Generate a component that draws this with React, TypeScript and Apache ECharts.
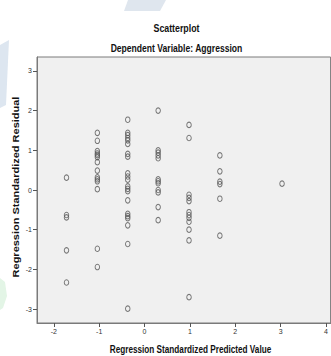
import React, { useEffect, useRef } from "react";
import * as echarts from "echarts";

// Predicted value (x) for each vertical group of points
const groupPredicted = [-1.72, -1.04, -0.37, 0.3, 0.98, 1.66, 3.03];

// Standardized residuals (y), one list per group
const group1Residuals = [0.31, -0.63, -0.69, -1.52, -2.33];
const group2Residuals = [1.44, 1.24, 0.98, 0.92, 0.88, 0.83, 0.7, 0.49, 0.32, 0.27, 0.22, 0.02, -1.48, -1.94];
const group3Residuals = [1.77, 1.44, 1.38, 1.31, 1.25, 1.16, 0.91, 0.84, 0.42, 0.34, 0.26, 0.09, 0.03, -0.03, -0.26, -0.6, -0.66, -0.71, -0.89, -1.36, -2.99];
const group4Residuals = [2.0, 1.0, 0.94, 0.87, 0.8, 0.27, 0.22, 0.17, 0.0, -0.06, -0.43, -0.76];
const group5Residuals = [1.64, 1.31, -0.12, -0.2, -0.28, -0.56, -0.63, -0.7, -0.8, -1.0, -1.27, -2.7];
const group6Residuals = [0.87, 0.47, 0.21, 0.15, -0.22, -1.15];
const group7Residuals = [0.16];

const xTicks = [-2, -1, 0, 1, 2, 3, 4];
const yTicks = [-3, -2, -1, 0, 1, 2, 3];

const titleText = "Scatterplot";
const subtitleText = "Dependent Variable: Aggression";
const xAxisName = "Regression Standardized Predicted Value";
const yAxisName = "Regression Standardized Residual";

export default function App() {
  const ref = useRef<HTMLDivElement>(null);

  useEffect(() => {
    if (!ref.current) return;
    const chart = echarts.init(ref.current, null, { renderer: "svg" });
    const groups = [
      group1Residuals,
      group2Residuals,
      group3Residuals,
      group4Residuals,
      group5Residuals,
      group6Residuals,
      group7Residuals,
    ];
    const points: number[][] = [];
    groups.forEach((g, i) => g.forEach((r) => points.push([groupPredicted[i], r])));

    const font = "'Liberation Sans', Arial, sans-serif";

    chart.setOption({
      animation: false,
      backgroundColor: "#ffffff",
      grid: {
        left: 37,
        top: 57,
        width: 295,
        height: 266,
        show: true,
        backgroundColor: "#f0f0f0",
        borderColor: "#7a7a7a",
        borderWidth: 1,
      },
      xAxis: {
        type: "value",
        min: -2.37,
        max: 4.1,
        splitLine: { show: false },
        axisLine: { show: true, onZero: false, lineStyle: { color: "#7a7a7a", width: 1 } },
        axisTick: { show: true, length: 4, customValues: xTicks, lineStyle: { color: "#555" } },
        axisLabel: {
          customValues: xTicks,
          fontSize: 7,
          color: "#333",
          margin: 5,
          fontFamily: font,
        },
      },
      yAxis: {
        type: "value",
        min: -3.35,
        max: 3.35,
        splitLine: { show: false },
        axisLine: { show: true, onZero: false, lineStyle: { color: "#7a7a7a", width: 1 } },
        axisTick: { show: true, length: 4, customValues: yTicks, lineStyle: { color: "#555" } },
        axisLabel: {
          customValues: yTicks,
          fontSize: 7,
          color: "#333",
          margin: 5,
          fontFamily: font,
        },
      },
      series: [
        {
          type: "scatter",
          data: points,
          symbol: "circle",
          symbolSize: [4.5, 5.5],
          itemStyle: {
            color: "rgba(0,0,0,0)",
            borderColor: "#555",
            borderWidth: 1,
          },
        },
      ],
      graphic: [
        // faint watermark shapes from the source page
        {
          type: "polygon",
          silent: true,
          shape: { points: [[128, 0], [166, 0], [160, 11], [124, 11]] },
          style: { fill: "#dfe6ee" },
        },
        {
          type: "polygon",
          silent: true,
          shape: { points: [[0, 45], [9, 40], [6, 105], [0, 108]] },
          style: { fill: "#dde6f0" },
        },
        {
          type: "polygon",
          silent: true,
          shape: { points: [[0, 278], [5, 282], [7, 296], [3, 308], [0, 310]] },
          style: { fill: "#e3f5e6" },
        },
        {
          type: "text",
          x: 176.5,
          y: 28,
          scaleX: 0.8,
          style: {
            text: titleText,
            fontSize: 11,
            fontWeight: "bold",
            fontFamily: font,
            fill: "#111",
            textAlign: "center",
            textVerticalAlign: "middle",
          },
        },
        {
          type: "text",
          x: 176.5,
          y: 48,
          scaleX: 0.78,
          style: {
            text: subtitleText,
            fontSize: 11,
            fontWeight: "bold",
            fontFamily: font,
            fill: "#111",
            textAlign: "center",
            textVerticalAlign: "middle",
          },
        },
        {
          type: "text",
          x: 190.5,
          y: 350,
          scaleX: 0.82,
          style: {
            text: xAxisName,
            fontSize: 10,
            fontWeight: "bold",
            fontFamily: font,
            fill: "#111",
            textAlign: "center",
            textVerticalAlign: "middle",
          },
        },
        {
          type: "text",
          x: 16,
          y: 187,
          rotation: Math.PI / 2,
          scaleY: 0.8,
          style: {
            text: yAxisName,
            fontSize: 11,
            fontWeight: "bold",
            fontFamily: font,
            fill: "#111",
            textAlign: "center",
            textVerticalAlign: "middle",
          },
        },
      ],
    });
    return () => chart.dispose();
  }, []);

  return (
    <div
      ref={ref}
      style={{ position: "fixed", left: 0, top: 0, width: 331, height: 356 }}
    />
  );
}
